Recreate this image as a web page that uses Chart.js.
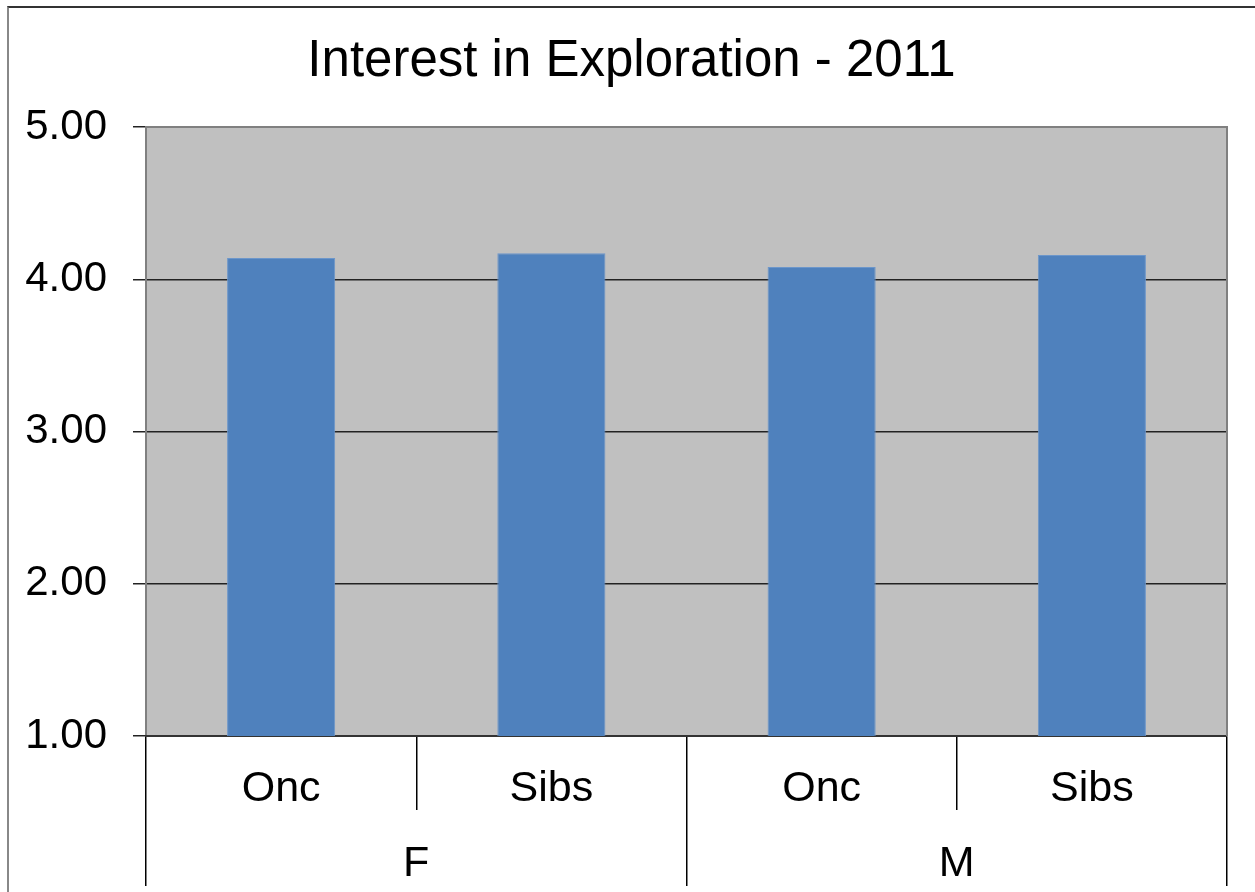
<!DOCTYPE html>
<html>
<head>
<meta charset="utf-8">
<script src="https://cdn.jsdelivr.net/npm/chart.js@4/dist/chart.umd.min.js"></script>
<style>
  html, body { margin: 0; padding: 0; background: #fff; overflow: hidden; }
  #wrap { position: relative; width: 1255px; height: 892px; }
  #frame { position: absolute; left: 7px; top: 6px; width: 1400px; height: 1000px;
           border-top: 2px solid #333; border-left: 2px solid #888; pointer-events: none; }
</style>
</head>
<body>
<div id="wrap">
  <canvas id="c" width="1255" height="892"></canvas>
  <div id="frame"></div>
</div>
<script>
const titleText = 'Interest in Exploration - 2011';
const subCategories = ['Onc', 'Sibs', 'Onc', 'Sibs'];
const groupCategories = ['F', 'M'];
const values = [4.14, 4.17, 4.08, 4.16];
const yTicks = [1, 2, 3, 4, 5];

const FONT = '"Liberation Sans", Arial, sans-serif';

const plotStyle = {
  id: 'plotStyle',
  afterLayout(chart) {
    const t = chart.titleBlock;
    if (t) { t.left = 36; t.width = t.right - t.left; }
  },
  beforeDraw(chart) {
    const a = chart.chartArea, ctx = chart.ctx;
    ctx.save();
    ctx.fillStyle = '#C0C0C0';
    ctx.fillRect(a.left, a.top, a.right - a.left, a.bottom - a.top);
    ctx.restore();
  },
  afterDraw(chart) {
    const a = chart.chartArea, ctx = chart.ctx;
    ctx.save();
    ctx.strokeStyle = '#808080';
    ctx.lineWidth = 2;
    ctx.beginPath();
    ctx.moveTo(a.left, a.top);
    ctx.lineTo(a.right, a.top);
    ctx.lineTo(a.right, a.bottom);
    ctx.stroke();
    ctx.restore();
  }
};

new Chart(document.getElementById('c'), {
  type: 'bar',
  data: {
    labels: subCategories,
    datasets: [{
      data: values,
      backgroundColor: '#4F81BD',
      borderColor: '#6C96CA',
      borderWidth: 1,
      barPercentage: 0.4,
      categoryPercentage: 1.0,
      xAxisID: 'x'
    }]
  },
  options: {
    responsive: false,
    animation: false,
    layout: { padding: { left: 0, right: 28, top: 0, bottom: 6 } },
    plugins: {
      legend: { display: false },
      tooltip: { enabled: false },
      title: {
        display: true,
        text: titleText,
        color: '#000',
        font: { family: FONT, size: 51, weight: 'normal', lineHeight: 1.2 },
        padding: { top: 31, bottom: 34.8 }
      }
    },
    scales: {
      y: {
        min: 1, max: 5,
        afterBuildTicks(scale) { scale.ticks = yTicks.map(v => ({ value: v })); },
        afterFit(scale) { scale.width = 146; },
        ticks: {
          color: '#000',
          font: { family: FONT, size: 42 },
          padding: 26,
          callback: v => Number(v).toFixed(2)
        },
        grid: { color: '#222', lineWidth: 1.5, tickLength: 13, drawTicks: true },
        border: { display: true, color: '#808080', width: 2 }
      },
      x: {
        type: 'category',
        position: 'bottom',
        offset: true,
        afterFit(scale) { scale.height = 74; },
        ticks: {
          color: '#000',
          font: { family: FONT, size: 43 },
          padding: -47,
          maxRotation: 0, autoSkip: false
        },
        grid: { offset: true, drawOnChartArea: false, color: '#000', lineWidth: 1.5, tickLength: 74 },
        border: { display: true, color: '#333', width: 2 }
      },
      x2: {
        type: 'category',
        position: 'bottom',
        labels: groupCategories,
        offset: true,
        afterFit(scale) { scale.height = 76; },
        ticks: {
          color: '#000',
          font: { family: FONT, size: 43 },
          padding: -48,
          maxRotation: 0, autoSkip: false
        },
        grid: { offset: true, drawOnChartArea: false, color: '#000', lineWidth: 1.5, tickLength: 76 },
        border: { display: false }
      }
    }
  },
  plugins: [plotStyle]
});
</script>
</body>
</html>
